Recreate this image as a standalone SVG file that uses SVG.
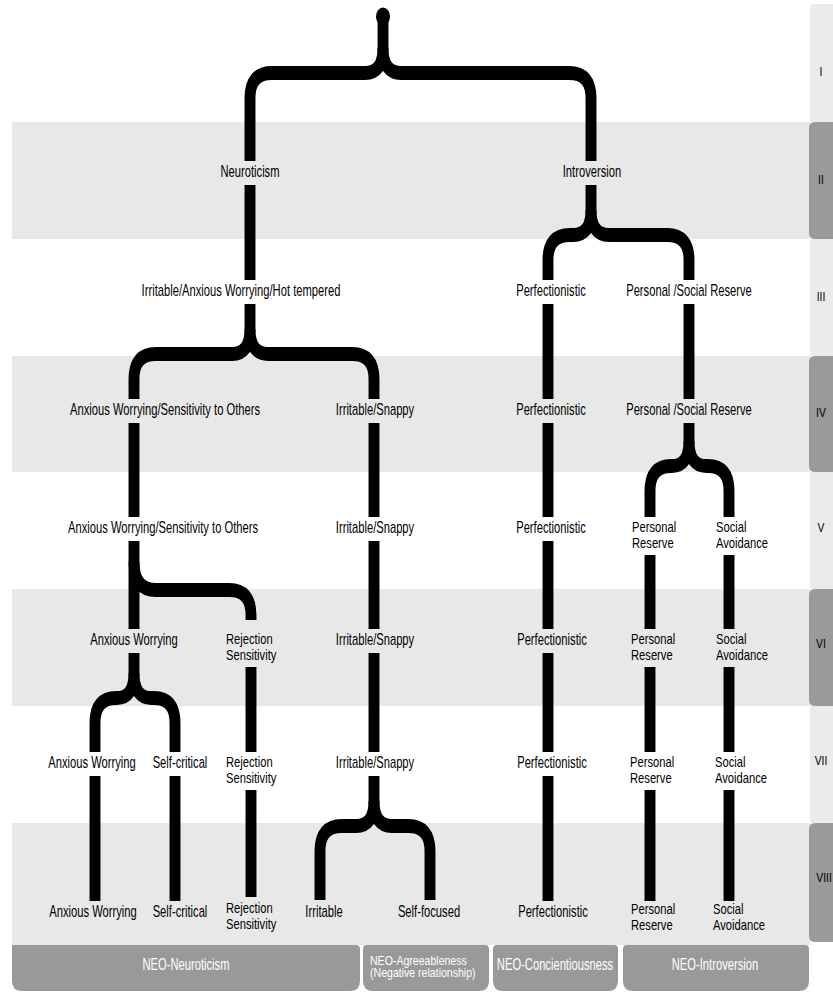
<svg xmlns="http://www.w3.org/2000/svg" width="833" height="992" viewBox="0 0 833 992">
<style>
.t{font-family:"Liberation Sans",Arial,sans-serif;font-size:16px;fill:#000;text-anchor:middle}
.l{text-anchor:start}
.m{font-size:14px}
.w{fill:#fff}
.s{font-size:12px}
.r{font-size:13px}
.band{fill:#e8e8e8}
.tabl{fill:#ebebeb}
.tabd{fill:#9a9a9a}
.box{fill:#999}
.c{fill:none;stroke:#000;stroke-width:14}
</style>
<rect x="0" y="0" width="833" height="992" fill="#fff"/>
<g id="bands">
<rect class="band" x="12" y="122" width="798" height="117"/>
<rect class="band" x="12" y="356" width="798" height="116"/>
<rect class="band" x="12" y="589" width="798" height="117"/>
<rect class="band" x="12" y="823" width="798" height="122"/>
<path class="tabl" d="M814 4 H833 V122 H810 V8 Q810 4 814 4 Z"/>
<rect class="tabl" x="810" y="239" width="23" height="117"/>
<rect class="tabl" x="810" y="472" width="23" height="117"/>
<rect class="tabl" x="810" y="706" width="23" height="117"/>
<path class="tabd" d="M815 122 H833 V239 H815 Q809 239 809 233 V128 Q809 122 815 122 Z"/>
<path class="tabd" d="M815 356 H833 V472 H815 Q809 472 809 466 V362 Q809 356 815 356 Z"/>
<path class="tabd" d="M815 589 H833 V706 H815 Q809 706 809 700 V595 Q809 589 815 589 Z"/>
<path class="tabd" d="M815 823 H833 V942 H815 Q809 942 809 936 V829 Q809 823 815 823 Z"/>
</g>
<g id="row-labels">
<text class="t r" transform="translate(821 76) scale(0.8 1)">I</text>
<text class="t r" transform="translate(821 184) scale(0.8 1)">II</text>
<text class="t r" transform="translate(821 301) scale(0.8 1)">III</text>
<text class="t r" transform="translate(821 417) scale(0.8 1)">IV</text>
<text class="t r" transform="translate(821 532) scale(0.8 1)">V</text>
<text class="t r" transform="translate(821 648) scale(0.8 1)">VI</text>
<text class="t r" transform="translate(821 765) scale(0.8 1)">VII</text>
<text class="t r" transform="translate(824 882) scale(0.8 1)">VIII</text>
</g>
<g id="connectors" transform="scale(0.78 1)">
<ellipse cx="491.03" cy="16.5" rx="9" ry="9" fill="#000"/>
<path class="c" d="M491.03 20 V48 Q491.03 73 468.03 73 H348.51 Q320.51 73 320.51 98 V161"/>
<path class="c" d="M491.03 48 Q491.03 73 514.03 73 H729.69 Q757.69 73 757.69 98 V161"/>
<path class="c" d="M320.51 185 V280"/>
<path class="c" d="M320.51 304 V329 Q320.51 354 297.51 354 H199.79 Q171.79 354 171.79 379 V399"/>
<path class="c" d="M320.51 329 Q320.51 354 343.51 354 H451.49 Q479.49 354 479.49 379 V399"/>
<path class="c" d="M171.79 423 V517"/>
<path class="c" d="M171.79 541 V629"/>
<path class="c" d="M171.79 562 Q171.79 590 199.79 590 H293.79 Q321.79 590 321.79 615 V620"/>
<path class="c" d="M171.79 653 V673 Q171.79 698 149.79 698 H148.79 Q121.79 698 121.79 723 V752"/>
<path class="c" d="M171.79 673 Q171.79 698 193.79 698 H197.36 Q224.36 698 224.36 723 V752"/>
<path class="c" d="M121.79 776 V901"/>
<path class="c" d="M224.36 776 V901"/>
<path class="c" d="M321.79 667 V752"/>
<path class="c" d="M321.79 790 V897"/>
<path class="c" d="M479.49 423 V517"/>
<path class="c" d="M479.49 541 V629"/>
<path class="c" d="M479.49 653 V752"/>
<path class="c" d="M479.49 776 V801 Q479.49 826 456.49 826 H438.26 Q410.26 826 410.26 851 V900"/>
<path class="c" d="M479.49 801 Q479.49 826 502.49 826 H523.28 Q551.28 826 551.28 851 V900"/>
<path class="c" d="M757.69 185 V210 Q757.69 235 734.69 235 H730.56 Q702.56 235 702.56 260 V280"/>
<path class="c" d="M757.69 210 Q757.69 235 780.69 235 H855.33 Q883.33 235 883.33 260 V280"/>
<path class="c" d="M702.56 304 V399"/>
<path class="c" d="M702.56 423 V517"/>
<path class="c" d="M702.56 541 V629"/>
<path class="c" d="M702.56 653 V752"/>
<path class="c" d="M702.56 776 V901"/>
<path class="c" d="M883.33 304 V399"/>
<path class="c" d="M883.33 423 V441 Q883.33 466 861.33 466 H860.33 Q833.33 466 833.33 491 V517"/>
<path class="c" d="M883.33 441 Q883.33 466 905.33 466 H907.62 Q934.62 466 934.62 491 V517"/>
<path class="c" d="M833.33 555 V629"/>
<path class="c" d="M833.33 667 V752"/>
<path class="c" d="M833.33 790 V901"/>
<path class="c" d="M934.62 555 V629"/>
<path class="c" d="M934.62 667 V752"/>
<path class="c" d="M934.62 790 V901"/>
</g>
<g id="n-neuroticism"><text class="t" transform="translate(250 177) scale(0.7 1)">Neuroticism</text></g>
<g id="n-introversion"><text class="t" transform="translate(592 177) scale(0.7 1)">Introversion</text></g>
<g id="n-iii-irritable-anxious"><text class="t" transform="translate(241 296) scale(0.7 1)">Irritable/Anxious Worrying/Hot tempered</text></g>
<g id="n-iii-perfectionistic"><text class="t" transform="translate(551 296) scale(0.7 1)">Perfectionistic</text></g>
<g id="n-iii-personal-social"><text class="t" transform="translate(689 296) scale(0.7 1)">Personal /Social Reserve</text></g>
<g id="n-iv-anxious-sensitivity"><text class="t" transform="translate(165 415) scale(0.7 1)">Anxious Worrying/Sensitivity to Others</text></g>
<g id="n-iv-irritable"><text class="t" transform="translate(375 415) scale(0.7 1)">Irritable/Snappy</text></g>
<g id="n-iv-perfectionistic"><text class="t" transform="translate(551 415) scale(0.7 1)">Perfectionistic</text></g>
<g id="n-iv-personal-social"><text class="t" transform="translate(689 415) scale(0.7 1)">Personal /Social Reserve</text></g>
<g id="n-v-anxious-sensitivity"><text class="t" transform="translate(163 533) scale(0.7 1)">Anxious Worrying/Sensitivity to Others</text></g>
<g id="n-v-irritable"><text class="t" transform="translate(375 533) scale(0.7 1)">Irritable/Snappy</text></g>
<g id="n-v-perfectionistic"><text class="t" transform="translate(551 533) scale(0.7 1)">Perfectionistic</text></g>
<g id="n-v-personal"><text class="t l m" transform="translate(632 532) scale(0.8 1)"><tspan x="0">Personal</tspan><tspan x="0" dy="16">Reserve</tspan></text></g>
<g id="n-v-social"><text class="t l m" transform="translate(716 532) scale(0.8 1)"><tspan x="0">Social</tspan><tspan x="0" dy="16">Avoidance</tspan></text></g>
<g id="n-vi-anxious"><text class="t" transform="translate(134 645) scale(0.7 1)">Anxious Worrying</text></g>
<g id="n-vi-rejection"><text class="t l m" transform="translate(226 644) scale(0.8 1)"><tspan x="0">Rejection</tspan><tspan x="0" dy="16">Sensitivity</tspan></text></g>
<g id="n-vi-irritable"><text class="t" transform="translate(375 645) scale(0.7 1)">Irritable/Snappy</text></g>
<g id="n-vi-perfectionistic"><text class="t" transform="translate(552 645) scale(0.7 1)">Perfectionistic</text></g>
<g id="n-vi-personal"><text class="t l m" transform="translate(631 644) scale(0.8 1)"><tspan x="0">Personal</tspan><tspan x="0" dy="16">Reserve</tspan></text></g>
<g id="n-vi-social"><text class="t l m" transform="translate(716 644) scale(0.8 1)"><tspan x="0">Social</tspan><tspan x="0" dy="16">Avoidance</tspan></text></g>
<g id="n-vii-anxious"><text class="t" transform="translate(92 768) scale(0.7 1)">Anxious Worrying</text></g>
<g id="n-vii-selfcritical"><text class="t" transform="translate(180 768) scale(0.7 1)">Self-critical</text></g>
<g id="n-vii-rejection"><text class="t l m" transform="translate(226 767) scale(0.8 1)"><tspan x="0">Rejection</tspan><tspan x="0" dy="16">Sensitivity</tspan></text></g>
<g id="n-vii-irritable"><text class="t" transform="translate(375 768) scale(0.7 1)">Irritable/Snappy</text></g>
<g id="n-vii-perfectionistic"><text class="t" transform="translate(552 768) scale(0.7 1)">Perfectionistic</text></g>
<g id="n-vii-personal"><text class="t l m" transform="translate(630 767) scale(0.8 1)"><tspan x="0">Personal</tspan><tspan x="0" dy="16">Reserve</tspan></text></g>
<g id="n-vii-social"><text class="t l m" transform="translate(715 767) scale(0.8 1)"><tspan x="0">Social</tspan><tspan x="0" dy="16">Avoidance</tspan></text></g>
<g id="n-viii-anxious"><text class="t" transform="translate(93 917) scale(0.7 1)">Anxious Worrying</text></g>
<g id="n-viii-selfcritical"><text class="t" transform="translate(180 917) scale(0.7 1)">Self-critical</text></g>
<g id="n-viii-rejection"><text class="t l m" transform="translate(226 913) scale(0.8 1)"><tspan x="0">Rejection</tspan><tspan x="0" dy="16">Sensitivity</tspan></text></g>
<g id="n-viii-irritable"><text class="t" transform="translate(324 917) scale(0.7 1)">Irritable</text></g>
<g id="n-viii-selffocused"><text class="t" transform="translate(429 917) scale(0.7 1)">Self-focused</text></g>
<g id="n-viii-perfectionistic"><text class="t" transform="translate(553 917) scale(0.7 1)">Perfectionistic</text></g>
<g id="n-viii-personal"><text class="t l m" transform="translate(631 914) scale(0.8 1)"><tspan x="0">Personal</tspan><tspan x="0" dy="16">Reserve</tspan></text></g>
<g id="n-viii-social"><text class="t l m" transform="translate(713 914) scale(0.8 1)"><tspan x="0">Social</tspan><tspan x="0" dy="16">Avoidance</tspan></text></g>
<g id="neo-neuroticism">
<path class="box" d="M16 945 H356 Q360 945 360 949 V981 Q360 991 350 991 H22 Q12 991 12 981 V945 Z"/>
<text class="t w" transform="translate(186 970) scale(0.7 1)">NEO-Neuroticism</text>
</g>
<g id="neo-agreeableness">
<path class="box" d="M367 945 H485 Q489 945 489 949 V981 Q489 991 479 991 H373 Q363 991 363 981 V949 Q363 945 367 945 Z"/>
<text class="t w s l" transform="translate(370 965) scale(0.88 1)"><tspan x="0">NEO-Agreeableness</tspan><tspan x="0" dy="12.5">(Negative relationship)</tspan></text>
</g>
<g id="neo-conscientiousness">
<path class="box" d="M497 945 H614 Q618 945 618 949 V981 Q618 991 608 991 H503 Q493 991 493 981 V949 Q493 945 497 945 Z"/>
<text class="t w" transform="translate(555 970) scale(0.7 1)">NEO-Concientiousness</text>
</g>
<g id="neo-introversion">
<path class="box" d="M627 945 H805 Q809 945 809 949 V981 Q809 991 799 991 H633 Q623 991 623 981 V949 Q623 945 627 945 Z"/>
<text class="t w" transform="translate(715 970) scale(0.7 1)">NEO-Introversion</text>
</g>
</svg>
